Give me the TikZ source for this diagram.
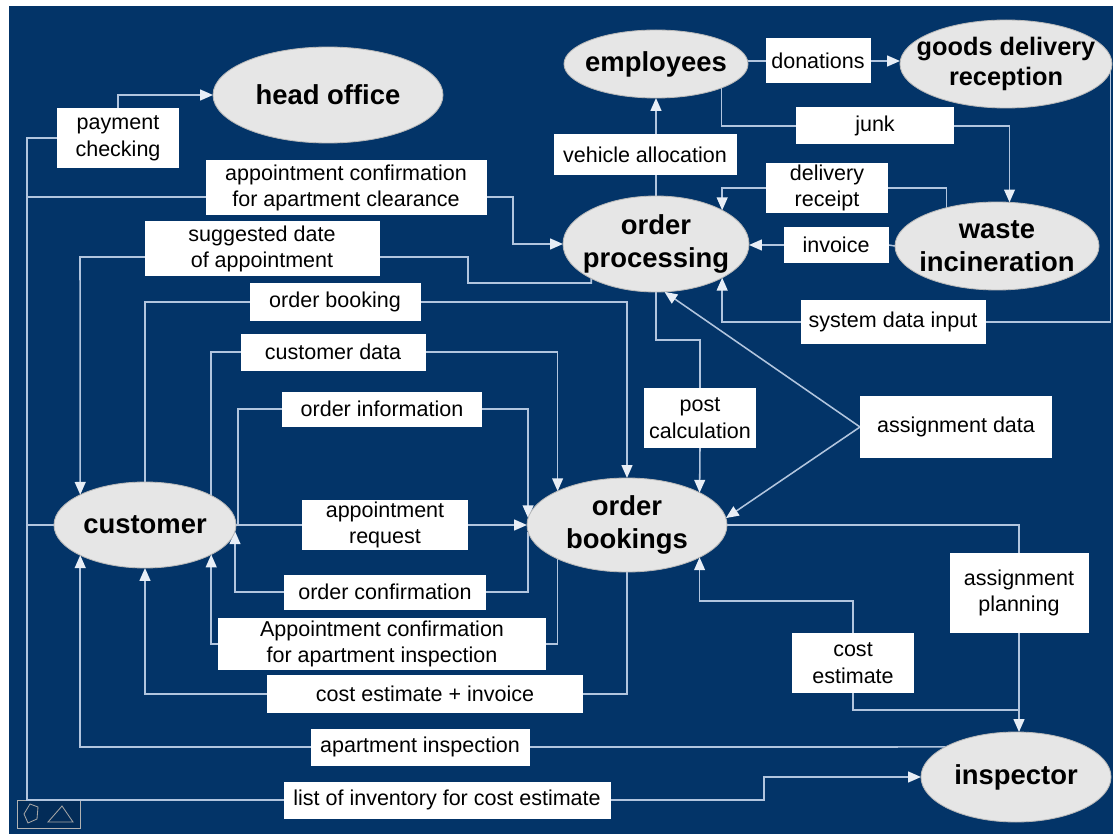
\documentclass[tikz,border=0pt]{standalone}
\usepackage{fontspec}
\setmainfont{Liberation Sans}
\usetikzlibrary{shapes.geometric,arrows.meta,backgrounds}

\definecolor{bgblue}{RGB}{3,52,104}
\definecolor{wire}{RGB}{178,197,222}
\definecolor{tipcol}{RGB}{232,238,246}
\definecolor{blobfill}{RGB}{230,230,230}

\begin{document}
\begin{tikzpicture}[x=0.025cm, y=-0.025cm,
		sz/.style 2 args={minimum width=#1*0.025cm, minimum height=#2*0.025cm},
		blob/.style={ellipse, fill=blobfill, draw=gray!55, line width=0.6pt, inner sep=0pt, outer sep=0pt},
		etxt/.style={align=center, inner sep=0pt, font=\bfseries\fontsize{19.5}{23.2}\selectfont},
		lbl/.style={fill=white, inner sep=0pt, outer sep=0pt, align=center, font=\fontsize{15.3}{19}\selectfont},
		wire/.style={draw=wire, line width=1.1pt},
		>={Triangle[length=0.32cm, width=0.27cm, color=tipcol]}]
			\node[blob, sz={230}{96}, label={[etxt]center:head office}] (head) at (328,95) {};
			\node[blob, sz={184}{68}, label={[etxt]center:employees}] (employ) at (656,64) {};
			\node[blob, sz={212}{88}, label={[etxt, font=\bfseries\fontsize{18}{21.3}\selectfont]center:goods delivery\\reception}] (goods) at (1006,64) {};
			\node[blob, sz={186}{96}, label={[etxt]center:order\\processing}] (proc) at (656,244) {};
			\node[blob, sz={204}{88}, label={[etxt]center:waste\\incineration}] (waste) at (997,246) {};
			\node[blob, sz={182}{86}, label={[etxt]center:customer}] (cust) at (145,525) {};
			\node[blob, sz={200}{94}, label={[etxt]center:order\\bookings}] (book) at (627,525) {};
			\node[blob, sz={190}{90}, label={[etxt]center:inspector}] (insp) at (1016,777) {};

			\node[lbl, sz={122}{60}] (pay) at (118,138) {payment\\checking};
			\node[lbl, sz={281}{55}] (clear) at (346,188) {appointment confirmation\\for apartment clearance};
			\node[lbl, sz={235}{55}] (sugg) at (262,249) {suggested date\\of appointment};
			\node[lbl, sz={171}{37}] (obook) at (335,302) {order booking};
			\node[lbl, sz={185}{37}] (cdata) at (333,352) {customer data};
			\node[lbl, sz={200}{35}] (oinfo) at (382,409) {order information};
			\node[lbl, sz={166}{50}] (areq) at (385,525) {appointment\\request};
			\node[lbl, sz={202}{35}] (oconf) at (385,592) {order confirmation};
			\node[lbl, sz={328}{52}] (insconf) at (382,644) {Appointment confirmation\\for apartment inspection};
			\node[lbl, sz={316}{38}] (cinv) at (425,694) {cost estimate + invoice};
			\node[lbl, sz={219}{37}] (apins) at (420,747) {apartment inspection};
			\node[lbl, sz={327}{37}] (inv) at (447,800) {list of inventory for cost estimate};
			\node[lbl, sz={183}{41}] (veh) at (645,155) {vehicle allocation};
			\node[lbl, sz={105}{45}] (don) at (818,61) {donations};
			\node[lbl, sz={158}{37}] (junk) at (875,126) {junk};
			\node[lbl, sz={122}{50}] (rcpt) at (827,188) {delivery\\receipt};
			\node[lbl, sz={105}{36}] (invc) at (836,245) {invoice};
			\node[lbl, sz={185}{43}] (sysin) at (893,322) {system data input};
			\node[lbl, sz={112}{60}] (post) at (700,418) {post\\calculation};
			\node[lbl, sz={192}{62}] (adata) at (956,427) {assignment data};
			\node[lbl, sz={139}{80}] (aplan) at (1019,593) {assignment\\planning};
			\node[lbl, sz={122}{60}] (cest) at (853,663) {cost\\estimate};

			\coordinate (bl) at (27,800);

			\begin{scope}[on background layer]
				\fill[white] (0,0) rectangle (1113,834);
				\fill[bgblue] (9,6) rectangle (1113,834);
				% presenter toolbar
				\draw[gray!60, fill=bgblue!85!black] (17,800) rectangle (80,828);
				\draw[gray!70, line width=0.6pt] (24,814) -- (30,804) -- (38,807) -- (37,819) -- (28,823) -- cycle;
				\draw[gray!70, line width=0.6pt] (48,822) -- (62,806) -- (73,822) -- cycle;

				% customer side
				\draw[wire] (pay.west) -| (bl) -- (inv.west);
				\draw[wire] (cust.west) -- (cust.west -| bl);
				\draw[wire,->] (pay.north) |- (head.west);
				\draw[wire,->] (bl |- 0,197) -- (513,197) |- (proc.west);
				\draw[wire,->] (proc.208) |- (468,283) |- (80,257) -- (cust.155);
				\draw[wire] (cust.north) |- (obook.west);
				\draw[wire,->] (obook.east) -| (book.north);
				\draw[wire] (cust.24) |- (cdata.west);
				\draw[wire,->] (cdata.east) -| (book.154);
				\draw[wire] (cust.east) -- ++(2,0) |- (oinfo.west);
				\draw[wire,->] (oinfo.east) -| (book.176);
				\draw[wire] (cust.east) -- (areq.west);
				\draw[wire,->] (areq.east) -- (book.west);
				\draw[wire] (book.184) |- (oconf.east);
				\draw[wire,->] (oconf.west) -| (cust.356);
				\draw[wire] (book.206) |- (insconf.east);
				\draw[wire,->] (insconf.west) -| (cust.336);
				\draw[wire] (book.south) |- (cinv.east);
				\draw[wire,->] (cinv.west) -| (cust.south);
				\draw[wire] (insp.157) -- (apins.east);
				\draw[wire,->] (apins.west) -| (cust.205);
				\draw[wire,->] (inv.east) -- (764,800) |- (insp.west);

				% processing side
				\draw[wire,->] (proc.north) -- (employ.south);
				\draw[wire] (employ.east |- don.west) -- (don.west);
				\draw[wire,->] (don.east) -- (don.east -| goods.west);
				\draw[wire] (employ.340) |- (junk.west);
				\draw[wire,->] (junk.east) -| (waste.74);
				\draw[wire] (waste.143) |- (rcpt.east);
				\draw[wire,->] (rcpt.west) -| (proc.27);
				\draw[wire] (waste.west) -- (invc.east);
				\draw[wire,->] (invc.west) -- (invc.west -| proc.east);
				\draw[wire] (goods.356) |- (sysin.east);
				\draw[wire,->] (sysin.west) -| (proc.333);
				\draw[wire] (proc.south) -- ++(0,48) -| (post.north);
				\draw[wire,->] (post.south) -- (book.24);
				\draw[wire,->] (adata.west) -- (proc.280);
				\draw[wire,->] (adata.west) -- (book.4);
				\draw[wire] (book.east) -| (aplan.north);
				\draw[wire,->] (aplan.south) -- (aplan.south |- insp.north);
				\draw[wire] (cest.south) |- (aplan.south |- 0,710);
				\draw[wire,->] (cest.north) -- ++(0,-32) -| (book.336);
			\end{scope}
\end{tikzpicture}
\end{document}
